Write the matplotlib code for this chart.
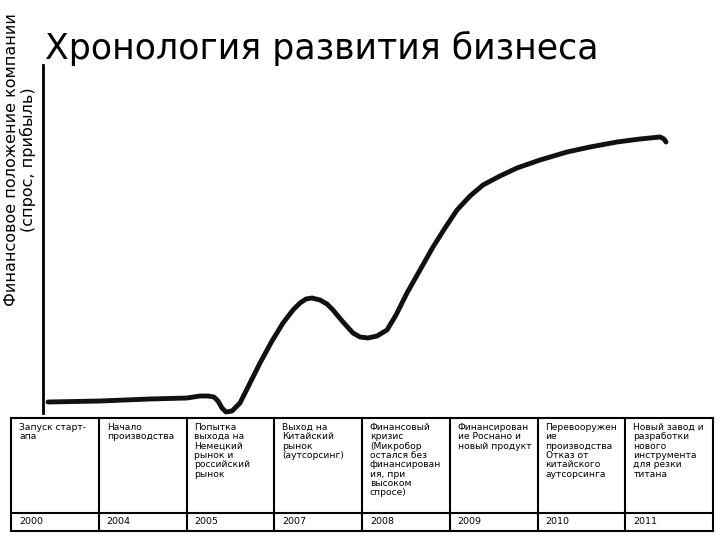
import matplotlib
matplotlib.use("Agg")
import matplotlib.pyplot as plt

# curve (pixel-like units, y grows downward)
curve_x = [48, 100, 150, 187, 200, 208, 214, 218, 222, 226, 232, 240, 250, 260, 272, 283, 293, 300,
           306, 312, 320, 327, 333, 343, 353, 360, 368, 377, 387, 396, 407, 420, 433, 445, 457, 470,
           483, 500, 517, 540, 567, 590, 617, 640, 660, 664, 666]
curve_y = [402, 401, 399, 398, 396, 396, 397, 401, 408, 412, 411, 403, 383, 363, 341, 323, 310, 303,
           299, 298, 300, 304, 310, 322, 333, 337, 338, 336, 330, 315, 293, 270, 247, 228, 210, 196,
           185, 176, 168, 160, 152, 147, 142, 139, 137, 139, 142]

events = ["Запуск старт-\nапа", "Начало\nпроизводства",
          "Попытка\nвыхода на\nНемецкий\nрынок и\nроссийский\nрынок",
          "Выход на\nКитайский\nрынок\n(аутсорсинг)",
          "Финансовый\nкризис\n(Микробор\nостался без\nфинансирован\nия, при\nвысоком\nспросе)",
          "Финансирован\nие Роснано и\nновый продукт",
          "Перевооружен\nие\nпроизводства\nОтказ от\nкитайского\nаутсорсинга",
          "Новый завод и\nразработки\nнового\nинструмента\nдля резки\nтитана"]
years = ["2000", "2004", "2005", "2007", "2008", "2009", "2010", "2011"]

fig = plt.figure(figsize=(7.2, 5.4), dpi=100)
ax = fig.add_axes([0, 0, 1, 1])
ax.set_xlim(0, 720)
ax.set_ylim(540, 0)
ax.axis("off")

ax.plot(curve_x, curve_y, color="#111111", lw=3.5, solid_capstyle="round", solid_joinstyle="round")
ax.plot([43, 43], [65, 413], color="black", lw=2)

ax.text(45, 48, "Хронология развития бизнеса", fontsize=25, va="center", ha="left")
ax.text(20, 160, "Финансовое положение компании\n(спрос, прибыль)", rotation=90,
        fontsize=11.5, ha="center", va="center", linespacing=1.0)

# table
left, right = 11, 713
top, mid, bottom = 418, 513, 531
colw = (right - left) / len(events)
for yy in (top, mid, bottom):
    ax.plot([left, right], [yy, yy], color="black", lw=1.5)
for i in range(len(events) + 1):
    ax.plot([left + i * colw] * 2, [top, bottom], color="black", lw=1.5)
for i, (ev, yr) in enumerate(zip(events, years)):
    x0 = left + i * colw + 8
    ax.text(x0, top + 5, ev, fontsize=6.6, va="top", ha="left", linespacing=1.05)
    ax.text(x0, (mid + bottom) / 2, yr, fontsize=6.8, va="center", ha="left")

fig.savefig("out.png", dpi=100)
plt.close(fig)
